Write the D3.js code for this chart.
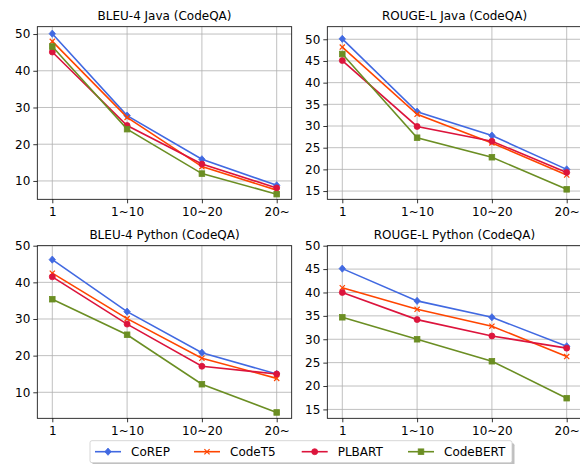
<!DOCTYPE html>
<html><head><meta charset="utf-8">
<script src="https://cdn.jsdelivr.net/npm/d3@7"></script>
<style>body{margin:0;background:#fff}svg{display:block}text{font-family:"DejaVu Sans",sans-serif}</style>
</head><body><svg id="c" width="580" height="464"></svg>
<script>
const categories = ["1", "1~10", "10~20", "20~"];
const seriesNames = ["CoREP", "CodeT5", "PLBART", "CodeBERT"];
const seriesColors = ["#4169E1", "#FF4500", "#DC143C", "#6B8E23"];
const seriesMarkers = ["diamond", "x", "circle", "square"];

const titles = ["BLEU-4 Java (CodeQA)", "ROUGE-L Java (CodeQA)", "BLEU-4 Python (CodeQA)", "ROUGE-L Python (CodeQA)"];

// values per panel, per series (CoREP, CodeT5, PLBART, CodeBERT)
const bleuJava = [
  [50.1, 27.8, 15.9, 8.8],
  [48.0, 27.3, 13.9, 7.5],
  [45.1, 25.1, 14.6, 8.1],
  [46.6, 24.1, 12.0, 6.4]
];
const rougeJava = [
  [50.1, 33.3, 27.8, 20.0],
  [48.2, 32.7, 26.1, 18.7],
  [45.1, 29.9, 26.5, 19.3],
  [46.6, 27.3, 22.8, 15.4]
];
const bleuPython = [
  [46.2, 32.0, 20.8, 15.0],
  [42.5, 30.1, 19.3, 13.8],
  [41.5, 28.6, 17.1, 15.0],
  [35.4, 25.7, 12.2, 4.5]
];
const rougePython = [
  [45.1, 38.2, 34.7, 28.5],
  [41.0, 36.4, 32.8, 26.3],
  [40.0, 34.2, 30.7, 28.1],
  [34.7, 30.0, 25.3, 17.4]
];

const yTicksBleuJava = [10, 20, 30, 40, 50];
const yTicksRougeJava = [15, 20, 25, 30, 35, 40, 45, 50];
const yTicksBleuPython = [10, 20, 30, 40, 50];
const yTicksRougePython = [15, 20, 25, 30, 35, 40, 45, 50];

const panelData = [bleuJava, rougeJava, bleuPython, rougePython];
const panelTicks = [yTicksBleuJava, yTicksRougeJava, yTicksBleuPython, yTicksRougePython];
const yDomains = [[5.0, 52.0], [13.1, 52.9], [2.9, 50.0], [13.1, 50.0]];

const boxes = [
  {x0: 37.3, x1: 291.7, y0: 26.7, y1: 199.3},
  {x0: 327.3, x1: 581.7, y0: 26.7, y1: 199.3},
  {x0: 37.3, x1: 291.7, y0: 245.7, y1: 418.3},
  {x0: 327.3, x1: 581.7, y0: 245.7, y1: 418.3}
];

const svg = d3.select("#c");

function drawMarker(g, type, x, y, color) {
  if (type === "diamond") {
    g.append("path").attr("d", `M${x},${y-3.6}L${x+3.2},${y}L${x},${y+3.6}L${x-3.2},${y}Z`).attr("fill", color).attr("stroke", color).attr("stroke-width", 0.8);
  } else if (type === "x") {
    const s = 2.6;
    g.append("path").attr("d", `M${x-s},${y-s}L${x+s},${y+s}M${x-s},${y+s}L${x+s},${y-s}`).attr("stroke", color).attr("stroke-width", 1.2).attr("fill", "none");
  } else if (type === "circle") {
    g.append("circle").attr("cx", x).attr("cy", y).attr("r", 3).attr("fill", color).attr("stroke", color).attr("stroke-width", 0.8);
  } else {
    g.append("rect").attr("x", x-2.8).attr("y", y-2.8).attr("width", 5.6).attr("height", 5.6).attr("fill", color).attr("stroke", color).attr("stroke-width", 0.8);
  }
}

panelData.forEach((data, pi) => {
  const b = boxes[pi];
  const x = d3.scalePoint().domain(categories).range([b.x0 + 15, b.x1 - 15]);
  const y = d3.scaleLinear().domain(yDomains[pi]).range([b.y1, b.y0]);
  const g = svg.append("g");
  const clipId = "clip" + pi;
  svg.append("clipPath").attr("id", clipId).append("rect").attr("x", b.x0).attr("y", b.y0).attr("width", b.x1 - b.x0).attr("height", b.y1 - b.y0);

  // grid
  const grid = g.append("g").attr("clip-path", `url(#${clipId})`);
  panelTicks[pi].forEach(t => {
    grid.append("line").attr("x1", b.x0).attr("x2", b.x1).attr("y1", y(t)).attr("y2", y(t)).attr("stroke", "#b0b0b0").attr("stroke-width", 0.8);
  });
  categories.forEach(c => {
    grid.append("line").attr("x1", x(c)).attr("x2", x(c)).attr("y1", b.y0).attr("y2", b.y1).attr("stroke", "#b0b0b0").attr("stroke-width", 0.8);
  });

  // lines
  const lineGen = d3.line().x((d, i) => x(categories[i])).y(d => y(d));
  const plot = g.append("g");
  data.forEach((vals, si) => {
    plot.append("path").datum(vals).attr("d", lineGen).attr("fill", "none").attr("stroke", seriesColors[si]).attr("stroke-width", 1.6);
    vals.forEach((v, i) => drawMarker(plot, seriesMarkers[si], x(categories[i]), y(v), seriesColors[si]));
  });

  // axes
  const yAxis = d3.axisLeft(y).tickValues(panelTicks[pi]).tickSize(4).tickPadding(3).tickFormat(d3.format("d"));
  const xAxis = d3.axisBottom(x).tickSize(4).tickPadding(4);
  const ya = g.append("g").attr("transform", `translate(${b.x0},0)`).call(yAxis);
  const xa = g.append("g").attr("transform", `translate(0,${b.y1})`).call(xAxis);
  [ya, xa].forEach(a => {
    a.select(".domain").remove();
    a.selectAll("text").attr("font-size", 12).attr("fill", "#000").style("font-family", "DejaVu Sans");
    a.selectAll("line").attr("stroke", "#000").attr("stroke-width", 0.8);
  });
  g.append("rect").attr("x", b.x0).attr("y", b.y0).attr("width", b.x1 - b.x0).attr("height", b.y1 - b.y0).attr("fill", "none").attr("stroke", "#000").attr("stroke-width", 0.8);

  // title
  g.append("text").attr("x", (b.x0 + b.x1) / 2).attr("y", b.y0 - 7).attr("text-anchor", "middle").attr("font-size", 12).text(titles[pi]);
});

// legend
const lg = svg.append("g");
const lx = 90, ly = 440.7, lw = 422, lh = 22;
lg.append("rect").attr("x", lx + 2.5).attr("y", ly + 2.5).attr("width", lw).attr("height", lh).attr("rx", 2).attr("fill", "#7f7f7f").attr("opacity", 0.5);
lg.append("rect").attr("x", lx).attr("y", ly).attr("width", lw).attr("height", lh).attr("rx", 2).attr("fill", "#fff").attr("stroke", "#cccccc").attr("stroke-width", 0.8);
const entryX = [95, 194, 301.7, 408];
seriesNames.forEach((n, i) => {
  const ex = entryX[i], ey = ly + lh / 2;
  lg.append("line").attr("x1", ex).attr("x2", ex + 26).attr("y1", ey).attr("y2", ey).attr("stroke", seriesColors[i]).attr("stroke-width", 1.6);
  drawMarker(lg, seriesMarkers[i], ex + 13, ey, seriesColors[i]);
  lg.append("text").attr("x", ex + 36).attr("y", ey).attr("dy", "0.35em").attr("font-size", 12).text(n);
});
</script></body></html>
